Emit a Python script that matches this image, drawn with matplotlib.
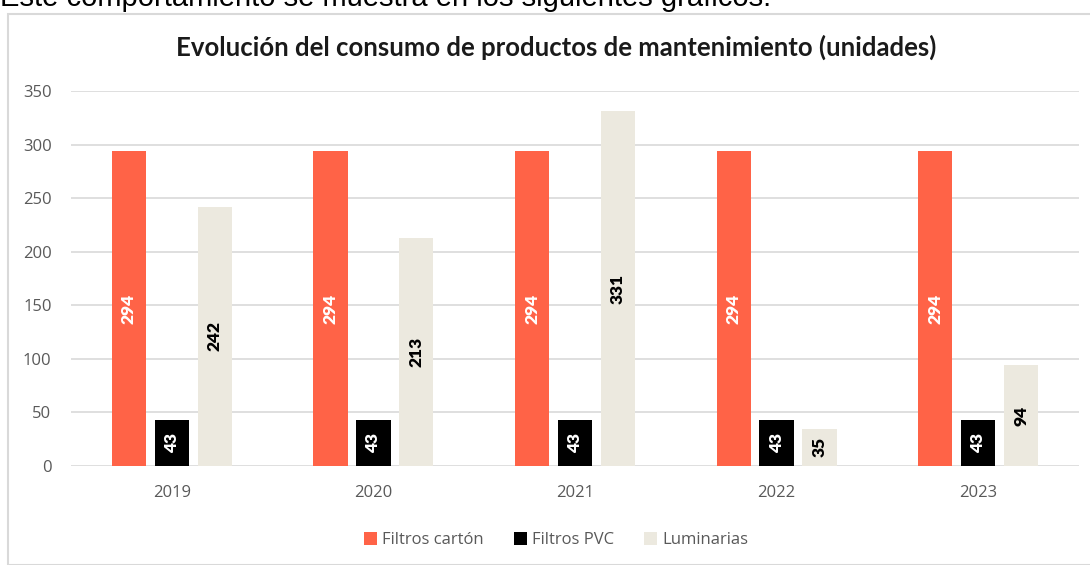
import matplotlib
matplotlib.use("Agg")
import matplotlib.pyplot as plt
import numpy as np
from matplotlib.patches import Rectangle

years = ["2019", "2020", "2021", "2022", "2023"]
series_names = ["Filtros cartón", "Filtros PVC", "Luminarias"]
filtros_carton = [294, 294, 294, 294, 294]
filtros_pvc = [43, 43, 43, 43, 43]
luminarias = [242, 213, 331, 35, 94]
yticks = [0, 50, 100, 150, 200, 250, 300, 350]

colors = ["#FF6347", "#000000", "#ECE9DF"]
label_colors = ["white", "white", "black"]

W, H = 1090, 565
fig = plt.figure(figsize=(W / 100, H / 100), dpi=100)

# chart border
fig.patches.append(Rectangle((8 / W, 0), 1.2, 1 - 14 / H, transform=fig.transFigure,
                             fill=False, edgecolor="#D9D9D9", linewidth=1.5, zorder=0))
# cut-off sentence above the chart
fig.text(0 / W, 1 - 6 / H, "Este comportamiento se muestra en los siguientes gráficos.",
         fontsize=21, family="Liberation Sans", color="black", va="baseline", ha="left")

ax = fig.add_axes([71 / W, 1 - 466 / H, (1079 - 71) / W, (466 - 91) / H])
x = np.arange(len(years))
width = 0.17
offsets = [-0.213, 0.0, 0.213]
data = [filtros_carton, filtros_pvc, luminarias]
for i, (name, vals) in enumerate(zip(series_names, data)):
    bars = ax.bar(x + offsets[i], vals, width, color=colors[i], label=name, zorder=3)
    for b, v in zip(bars, vals):
        ax.text(b.get_x() + b.get_width() / 2, v / 2, str(v), rotation=90,
                ha="center", va="center", color=label_colors[i], fontsize=12.5,
                fontweight="heavy", family="Lato", zorder=4)

ax.set_xlim(-0.5, len(years) - 0.5)
ax.set_ylim(0, 350)
ax.set_yticks(yticks)
ax.set_xticks(x)
ax.set_xticklabels(years)
ax.yaxis.grid(True, color="#D9D9D9", linewidth=1.2, zorder=0)
for s in ax.spines.values():
    s.set_visible(False)
ax.tick_params(axis="both", length=0, colors="#595959", labelsize=12)
ax.tick_params(axis="x", pad=14)
ax.tick_params(axis="y", pad=14)
for lab in ax.get_xticklabels() + ax.get_yticklabels():
    lab.set_family("Open Sans")

fig.text(556 / W, 1 - 47 / H, "Evolución del consumo de productos de mantenimiento (unidades)",
         ha="center", va="center", fontsize=18.5, fontweight="bold", family="Lato", color="#1a1a1a")

leg = fig.legend(loc="center", bbox_to_anchor=(556 / W, 1 - 540 / H), ncol=3, frameon=False,
                 handlelength=0.8, handleheight=0.8, handletextpad=0.3,
                 columnspacing=1.8, prop={"family": "Open Sans", "size": 12})
for t in leg.get_texts():
    t.set_color("#595959")

fig.savefig("out.png", dpi=100)
